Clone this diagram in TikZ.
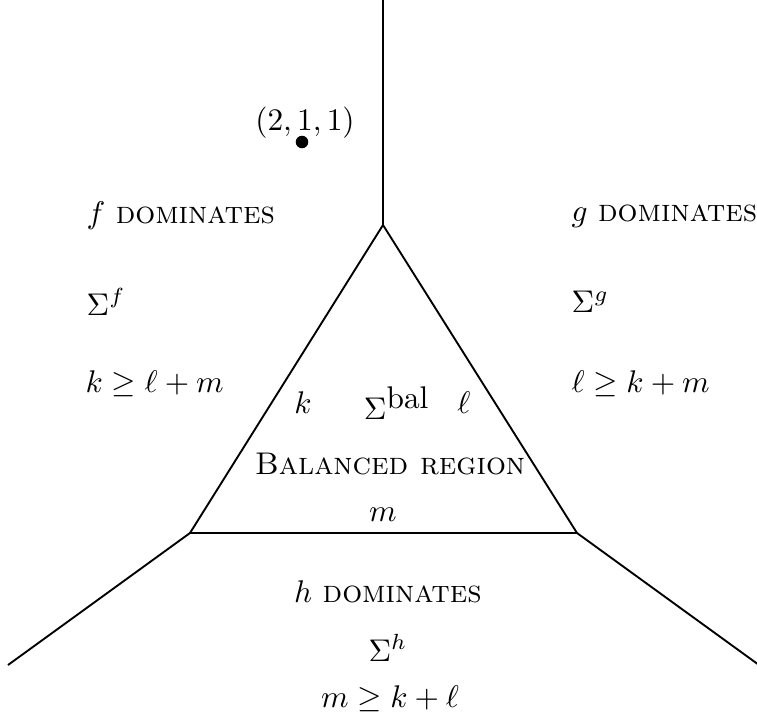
\documentclass[tikz,border=0pt]{standalone}
\begin{document}
\begin{tikzpicture}[x=0.319pt,y=-0.319pt,
  edge/.style={line width=0.6pt},
  lbl/.style={inner sep=0pt},
  lft/.style={inner sep=0pt,anchor=west}]
\useasboundingbox (0,0) rectangle (757,721);
\coordinate (T) at (383,225);
\coordinate (BL) at (190,533);
\coordinate (BR) at (577,533);
\coordinate (Top) at (383,0);
\coordinate (EL) at (8,665);
\coordinate (ER) at (759,665);
\draw[edge] (T) -- (BL) -- (BR) -- cycle;
\draw[edge] (T) -- (Top);
\draw[edge] (BL) -- (EL);
\draw[edge] (BR) -- (ER);
\fill (302,142) circle (2pt) coordinate (pt);
\node[lbl] (pl) at (305,123) {$(2,1,1)$};
\node[lft] (fd) at (86,216) {$f$ \textsc{dominates}};
\node[lft] (sf) at (86,302) {$\Sigma^f$};
\node[lft] (fc) at (85,384) {$k\geq \ell+m$};
\node[lft] (gd) at (571,216) {$g$ \textsc{dominates}};
\node[lft] (sg) at (571,302) {$\Sigma^g$};
\node[lft] (gc) at (571,384) {$\ell\geq k+m$};
\node[lbl] (k) at (303,403) {$k$};
\node[lbl] (sb) at (397,403) {$\Sigma^{\mbox{bal}}$};
\node[lbl] (l) at (464,403) {$\ell$};
\node[lbl] (br) at (390,464) {\textsc{Balanced region}};
\node[lbl] (m) at (383,515) {$m$};
\node[lbl] (hd) at (388,592) {$h$ \textsc{dominates}};
\node[lbl] (sh) at (388,648) {$\Sigma^h$};
\node[lbl] (hc) at (390,699) {$m\geq k+\ell$};
\end{tikzpicture}
\end{document}
